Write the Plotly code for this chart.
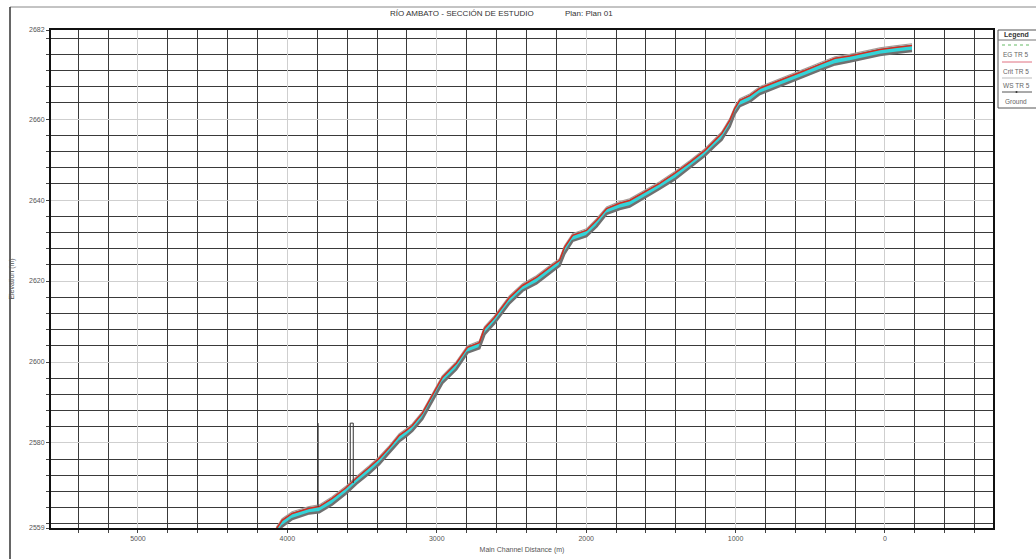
import plotly.graph_objects as go

# ---------------- data ----------------
dist = [4075, 4035, 3968, 3854, 3787, 3700, 3606, 3539, 3452, 3385,
        3318, 3251, 3204, 3164, 3097, 3043, 2963, 2869, 2795, 2715,
        2681, 2614, 2581, 2514, 2426, 2333, 2225, 2178, 2145, 2091,
        1998, 1930, 1863, 1776, 1709, 1609, 1508, 1408, 1307, 1207,
        1140, 1093, 1039, 1006, 972, 905, 838, 738, 637, 536,
        436, 335, 235, 134, 34, -67, -181]

ws_elev = [2558.8, 2561.0, 2562.7, 2564.0, 2564.4, 2566.4, 2569.1, 2571.4, 2574.1, 2576.3,
           2579.0, 2582.0, 2583.2, 2584.4, 2587.4, 2591.1, 2596.3, 2599.8, 2603.7, 2604.9,
           2608.4, 2611.1, 2612.8, 2616.0, 2619.0, 2621.0, 2624.0, 2625.2, 2628.4, 2631.4,
           2632.6, 2635.1, 2638.0, 2639.3, 2640.0, 2642.0, 2644.2, 2646.7, 2649.4, 2652.3,
           2654.8, 2656.5, 2659.8, 2662.7, 2664.7, 2665.9, 2667.7, 2669.1, 2670.6, 2672.1,
           2673.6, 2675.1, 2675.7, 2676.5, 2677.3, 2677.8, 2678.3]

ground_elev = [2557.3, 2559.4, 2561.2, 2562.6, 2562.9, 2564.8, 2567.6, 2569.9, 2572.5, 2574.8,
               2577.6, 2580.4, 2581.7, 2583.0, 2585.9, 2589.5, 2594.8, 2598.2, 2602.3, 2603.4,
               2606.8, 2609.6, 2611.2, 2614.5, 2617.6, 2619.4, 2622.5, 2623.8, 2626.8, 2629.9,
               2631.1, 2633.5, 2636.6, 2637.8, 2638.4, 2640.5, 2642.8, 2645.1, 2647.9, 2650.9,
               2653.3, 2654.9, 2658.2, 2661.3, 2663.2, 2664.3, 2666.2, 2667.6, 2669.0, 2670.6,
               2672.1, 2673.5, 2674.2, 2675.0, 2675.8, 2676.3, 2676.8]

crit_elev = [2558.7, 2560.9, 2562.6, 2563.9, 2564.3, 2566.3, 2569.0, 2571.3, 2574.0, 2576.2,
             2578.9, 2581.9, 2583.1, 2584.3, 2587.3, 2591.0, 2596.2, 2599.7, 2603.6, 2604.8,
             2608.3, 2611.0, 2612.7, 2615.9, 2618.9, 2620.9, 2623.9, 2625.1, 2628.3, 2631.3,
             2632.5, 2635.0, 2637.9, 2639.2, 2639.9, 2641.9, 2644.1, 2646.6, 2649.3, 2652.2,
             2654.7, 2656.4, 2659.7, 2662.6, 2664.6, 2665.8, 2667.6, 2669.0, 2670.5, 2672.0,
             2673.5, 2675.0, 2675.6, 2676.4, 2677.2, 2677.7, 2678.2]

eg_elev = [2559.1, 2561.3, 2563.0, 2564.3, 2564.7, 2566.7, 2569.4, 2571.7, 2574.4, 2576.6,
           2579.3, 2582.3, 2583.5, 2584.7, 2587.7, 2591.4, 2596.6, 2600.1, 2604.0, 2605.2,
           2608.7, 2611.4, 2613.1, 2616.3, 2619.3, 2621.3, 2624.3, 2625.5, 2628.7, 2631.7,
           2632.9, 2635.4, 2638.3, 2639.6, 2640.3, 2642.3, 2644.5, 2647.0, 2649.7, 2652.6,
           2655.1, 2656.8, 2660.1, 2663.0, 2665.0, 2666.2, 2668.0, 2669.4, 2670.9, 2672.4,
           2673.9, 2675.4, 2676.0, 2676.8, 2677.6, 2678.1, 2678.6]

# structures (vertical lines): station, bottom elevation, top elevation
struct_groups = [[3794], [3579, 3559]]
struct_bottom = [[2564.2], [2570.4, 2570.1]]
struct_top = 2584.9

x_tick_vals = [5000, 4000, 3000, 2000, 1000, 0]
y_tick_vals = [2559, 2580, 2600, 2620, 2640, 2660, 2682]
x_range = [5582, -723]
y_range = [2559, 2682]

title_text = "RÍO AMBATO - SECCIÓN DE ESTUDIO"
plan_text = "Plan: Plan 01"
legend_labels = ["EG TR 5", "Crit TR 5", "WS TR 5", "Ground"]

# ---------------- figure ----------------
W, H = 1036, 559
L, R, T, B = 51, 993, 30, 528
FONT = "Liberation Sans, Arial, sans-serif"


def px(x):
    return (x - L) / (R - L)


def py(y):
    return (B - y) / (B - T)


fig = go.Figure()

# ground
fig.add_trace(go.Scatter(x=dist, y=ground_elev, mode="lines",
                         line=dict(color="#707070", width=2.5), showlegend=False,
                         hoverinfo="skip"))
# water surface (filled to ground)
fig.add_trace(go.Scatter(x=dist, y=ws_elev, mode="lines", fill="tonexty",
                         fillcolor="#33d4d8", line=dict(color="#2bc0cc", width=1),
                         showlegend=False))
# energy grade
fig.add_trace(go.Scatter(x=dist, y=eg_elev, mode="lines",
                         line=dict(color="#a89c98", width=1.2), showlegend=False))
# critical depth
fig.add_trace(go.Scatter(x=dist, y=crit_elev, mode="lines",
                         line=dict(color="#d62a1e", width=1.5), showlegend=False))

# structures
sx, sy = [], []
for stations, bottoms in zip(struct_groups, struct_bottom):
    if len(stations) == 1:
        sx += [stations[0], stations[0], None]
        sy += [bottoms[0], struct_top, None]
    else:
        sx += [stations[0], stations[0], stations[1], stations[1], None]
        sy += [bottoms[0], struct_top, struct_top, bottoms[1], None]
fig.add_trace(go.Scatter(x=sx, y=sy, mode="lines", line=dict(color="#333333", width=1),
                         showlegend=False, hoverinfo="skip"))

axis_common = dict(showline=True, linecolor="#111111", linewidth=2, mirror=True,
                   zeroline=False, ticks="outside", ticklen=3, tickcolor="#444444",
                   tickfont=dict(family=FONT, size=7, color="#555555"),
                   gridcolor="#cfcfcf", gridwidth=1, automargin=False)

fig.update_layout(
    width=W, height=H,
    margin=dict(l=L, r=W - R, t=T, b=H - B, pad=0, autoexpand=False),
    paper_bgcolor="white", plot_bgcolor="white",
    showlegend=False,
    xaxis=dict(range=x_range, tickmode="array", tickvals=x_tick_vals,
               ticktext=[str(v) for v in x_tick_vals],
               minor=dict(tickmode="linear", tick0=0, dtick=200, showgrid=True,
                          gridcolor="#3a3a3a", gridwidth=1.3, ticks="outside",
                          ticklen=3, tickcolor="#444444"),
               title=dict(text="Main Channel Distance (m)", standoff=6,
                          font=dict(family=FONT, size=7, color="#555555")),
               **axis_common),
    yaxis=dict(range=y_range, tickmode="array", tickvals=y_tick_vals,
               ticktext=[str(v) for v in y_tick_vals],
               minor=dict(tickmode="linear", tick0=2580, dtick=4, showgrid=True,
                          gridcolor="#3a3a3a", gridwidth=1.3, ticks="outside",
                          ticklen=3, tickcolor="#444444"),
               title=dict(text="Elevation (m)", standoff=14,
                          font=dict(family=FONT, size=7, color="#555555")),
               **axis_common),
)

shapes = []
annos = []
# outer frame lines
shapes.append(dict(type="line", xref="paper", yref="paper", x0=px(10), x1=px(1040),
                   y0=py(7), y1=py(7), line=dict(color="#888888", width=1)))
shapes.append(dict(type="line", xref="paper", yref="paper", x0=px(10), x1=px(10),
                   y0=py(7), y1=py(565), line=dict(color="#333333", width=1.5)))

# title
annos.append(dict(text=title_text, xref="paper", yref="paper", x=px(388), y=py(13),
                  xanchor="left", yanchor="middle", showarrow=False,
                  font=dict(family=FONT, size=8, color="#333333")))
annos.append(dict(text=plan_text, xref="paper", yref="paper", x=px(563), y=py(13),
                  xanchor="left", yanchor="middle", showarrow=False,
                  font=dict(family=FONT, size=8, color="#333333")))

# custom legend box
shapes.append(dict(type="rect", xref="paper", yref="paper", x0=px(998), x1=px(1045),
                   y0=py(108), y1=py(30), line=dict(color="#555555", width=1),
                   fillcolor="white"))
shapes.append(dict(type="line", xref="paper", yref="paper", x0=px(998), x1=px(1045),
                   y0=py(40), y1=py(40), line=dict(color="#777777", width=1)))
annos.append(dict(text="<b>Legend</b>", xref="paper", yref="paper", x=px(1016), y=py(35),
                  xanchor="center", yanchor="middle", showarrow=False,
                  font=dict(family=FONT, size=7, color="#333333")))
sample_y = [45, 62, 78, 92]
label_y = [54, 71, 86, 101]
sample_style = [dict(color="#66bb66", width=1, dash="dot"),
                dict(color="#e07080", width=1),
                dict(color="#bbbbbb", width=1),
                dict(color="#555555", width=1)]
for lab, sy_, ly_, st in zip(legend_labels, sample_y, label_y, sample_style):
    shapes.append(dict(type="line", xref="paper", yref="paper", x0=px(1002), x1=px(1032),
                       y0=py(sy_), y1=py(sy_), line=st))
    annos.append(dict(text=lab, xref="paper", yref="paper", x=px(1016), y=py(ly_),
                      xanchor="center", yanchor="middle", showarrow=False,
                      font=dict(family=FONT, size=6.5, color="#666666")))
shapes.append(dict(type="circle", xref="paper", yref="paper", x0=px(1015.5), x1=px(1017.5),
                   y0=py(93), y1=py(91), fillcolor="#333333", line=dict(width=0)))

fig.update_layout(shapes=shapes, annotations=annos)
fig.write_html("out.html", config={"displayModeBar": False},
               post_script="document.body.style.margin='0px';document.body.style.overflow='hidden';")
